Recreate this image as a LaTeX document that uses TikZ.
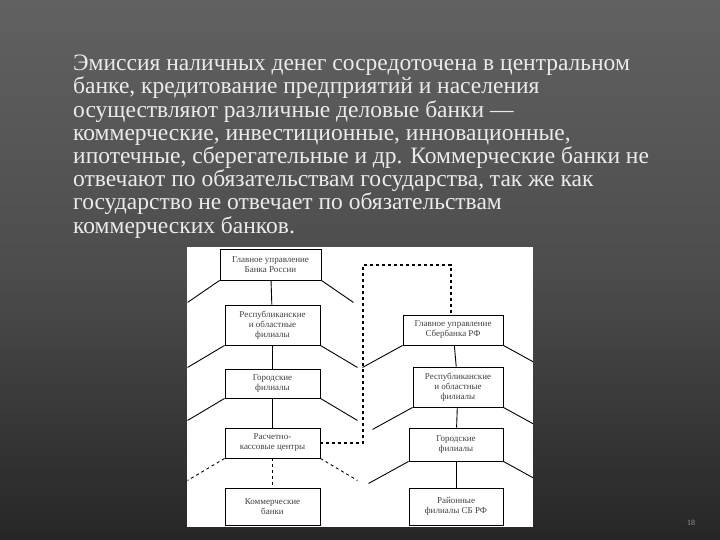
\documentclass[tikz,border=0pt]{standalone}
\usepackage{fontspec}
\setmainfont{Liberation Serif}
\begin{document}
\begin{tikzpicture}[x=1pt,y=-1pt,
  bx/.style={draw=black,fill=white,line width=0.9pt,inner sep=0pt,align=center,font=\fontsize{9}{10}\selectfont,text=black!75},
  ln/.style={line width=0.9pt},
  dl/.style={line width=1.3pt,dashed}]
\shade[top color=black!62,bottom color=black!85,middle color=black!70] (0,0) rectangle (720,540);
\useasboundingbox (0,0) rectangle (720,540);
\node[anchor=north west,align=left,text=black!8,font=\fontsize{23.5}{23.2}\selectfont,inner sep=0pt] (t) at (73,55) {Эмиссия наличных денег сосредоточена в центральном\\банке, кредитование предприятий и населения\\осуществляют различные деловые банки ---\\коммерческие, инвестиционные, инновационные,\\ипотечные, сберегательные и др. Коммерческие банки не\\отвечают по обязательствам государства, так же как\\государство не отвечает по обязательствам\\коммерческих банков.};
\fill[white] (187,247) rectangle (533,527);
\begin{scope}
\clip (187,247) rectangle (533,527);
\node[bx,minimum width=101,minimum height=31] (l1) at (270.5,264.5) {Главное управление\\Банка России};
\node[bx,minimum width=95,minimum height=40] (l2) at (272.5,325) {Республиканские\\и областные\\филиалы};
\node[bx,minimum width=95,minimum height=29] (l3) at (272.5,383.5) {Городские\\филиалы};
\node[bx,minimum width=95,minimum height=30] (l4) at (272.5,443) {Расчетно-\\кассовые центры};
\node[bx,minimum width=95,minimum height=37] (l5) at (272.5,506.5) {Коммерческие\\банки};
\node[bx,minimum width=100,minimum height=30] (r1) at (453,330) {Главное управление\\Сбербанка РФ};
\node[bx,minimum width=90,minimum height=40] (r2) at (458,387) {Республиканские\\и областные\\филиалы};
\node[bx,minimum width=94,minimum height=33] (r3) at (456,444.5) {Городские\\филиалы};
\node[bx,minimum width=94,minimum height=37] (r4) at (456,506.5) {Районные\\филиалы СБ РФ};
\draw[ln] (l1) -- (l2); \draw[ln] (l2) -- (l3); \draw[ln] (l3) -- (l4);
\draw[ln,dashed] (l4) -- (l5);
\draw[ln] (r1) -- (r2); \draw[ln] (r2) -- (r3); \draw[ln] (r3) -- (r4);
\foreach \n/\dx in {l1/32,l2/37,l3/37,r1/40,r2/40,r3/40}{
  \draw[ln] (\n.south west) -- ++(-\dx,22);
  \draw[ln] (\n.south east) -- ++(\dx,22);}
\draw[ln,dashed] (l4.south west) -- ++(-37,22);
\draw[ln,dashed] (l4.south east) -- ++(37,22);
\coordinate (c1) at (363,443); \coordinate (c2) at (363,265); \coordinate (c3) at (451,265);
\draw[dl] (l4.east) -- (c1) -- (c2) -- (c3) -- (r1.north -| c3);
\end{scope}
\node[text=black!40,font=\fontsize{8}{9}\selectfont] (pg) at (691,523) {18};
\end{tikzpicture}
\end{document}
